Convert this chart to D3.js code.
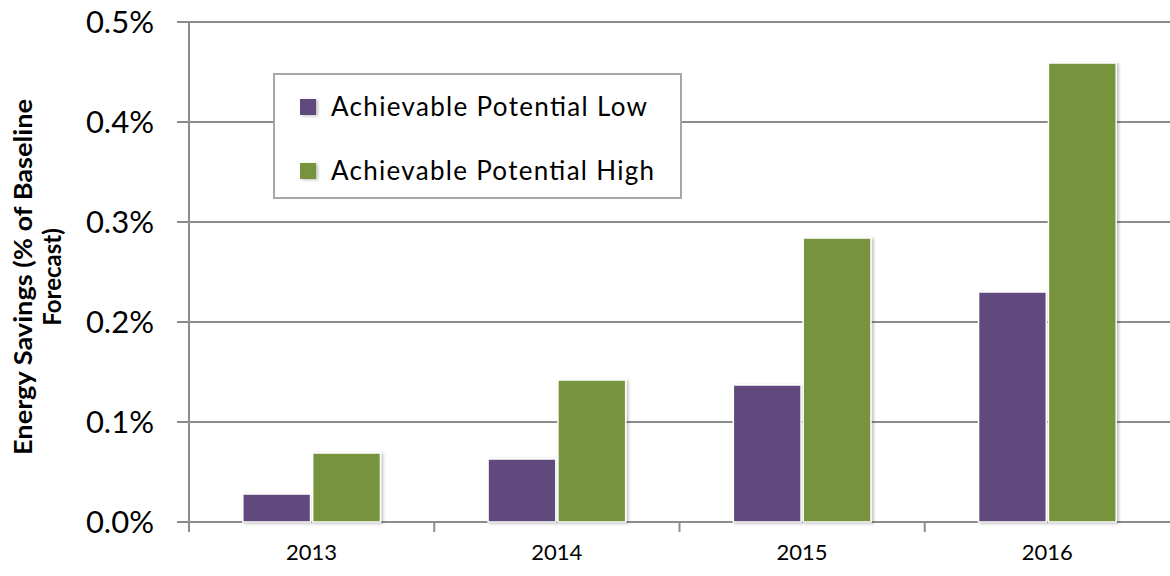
<!DOCTYPE html>
<html><head><meta charset="utf-8">
<script src="https://cdn.jsdelivr.net/npm/d3@7/dist/d3.min.js"></script>
<style>body{margin:0;background:#fff}svg{display:block}</style>
</head><body>
<svg id="c" width="1170" height="576"></svg>
<script>
const years = ["2013","2014","2015","2016"];
const seriesNames = ["Achievable Potential Low","Achievable Potential High"];
const lowValues = [0.028, 0.063, 0.137, 0.230];
const highValues = [0.069, 0.142, 0.284, 0.459];
const yTicks = [0, 0.1, 0.2, 0.3, 0.4, 0.5];
const colors = ["#604A7B", "#77933C"];

const svg = d3.select("#c");
const font = "Lato, 'Open Sans', sans-serif";
const m = {left:189, right:1170, top:22, bottom:522};

const defs = svg.append("defs");
const f = defs.append("filter").attr("id","sh").attr("x","-20%").attr("y","-20%").attr("width","140%").attr("height","140%");
f.append("feDropShadow").attr("dx",2).attr("dy",1).attr("stdDeviation",1.5).attr("flood-color","#000").attr("flood-opacity",0.25);

const x = d3.scaleBand().domain(years).range([m.left, m.right]).paddingInner(0).paddingOuter(0);
const y = d3.scaleLinear().domain([0,0.5]).range([m.bottom, m.top]);
const x1 = d3.scaleBand().domain([0,1]).range([0, x.bandwidth()]).paddingInner(0.03).paddingOuter(0.77);

// gridlines
svg.append("g").selectAll("line").data(yTicks).join("line")
  .attr("x1", m.left - 12).attr("x2", m.right)
  .attr("y1", d=>y(d)).attr("y2", d=>y(d))
  .attr("stroke","#8c8c8c").attr("stroke-width",2);

// y axis line
svg.append("line").attr("x1",m.left).attr("x2",m.left).attr("y1",m.top).attr("y2",m.bottom+10)
  .attr("stroke","#8c8c8c").attr("stroke-width",2);

// x ticks at category boundaries
const bounds = years.map(d=>x(d)).concat([m.right]);
svg.append("g").selectAll("line").data(bounds.slice(1,4)).join("line")
  .attr("x1",d=>d).attr("x2",d=>d).attr("y1",m.bottom).attr("y2",m.bottom+10)
  .attr("stroke","#8c8c8c").attr("stroke-width",2);

// y tick labels
svg.append("g").selectAll("text").data(yTicks).join("text")
  .attr("x", 154).attr("y", d=>y(d)).attr("dy","0.36em")
  .attr("text-anchor","end").attr("font-family",font).attr("font-size",31).attr("fill","#000")
  .text(d=>d3.format(".1f")(d)+"%");

// x labels
svg.append("g").selectAll("text").data(years).join("text")
  .attr("x", d=>x(d)+x.bandwidth()/2).attr("y", 560)
  .attr("text-anchor","middle").attr("font-family",font).attr("font-size",22).attr("fill","#000")
  .text(d=>d);

// bars
const data = years.map((yr,i)=>({yr, vals:[lowValues[i], highValues[i]]}));
const g = svg.append("g").selectAll("g").data(data).join("g")
  .attr("transform", d=>`translate(${x(d.yr)},0)`);
g.selectAll("rect").data(d=>d.vals.map((v,k)=>({v,k}))).join("rect")
  .attr("x", d=>x1(d.k)).attr("width", x1.bandwidth())
  .attr("y", d=>y(d.v)).attr("height", d=>y(0)-y(d.v))
  .attr("fill", d=>colors[d.k]).attr("stroke","#fff").attr("stroke-width",1.5)
  .attr("filter","url(#sh)");

// legend
const lg = svg.append("g");
lg.append("rect").attr("x",274).attr("y",74).attr("width",407).attr("height",124)
  .attr("fill","#fff").attr("stroke","#a6a6a6").attr("stroke-width",2);
const legendWidths = [316, 323];
seriesNames.forEach((n,i)=>{
  const cy = 107 + i*64;
  lg.append("rect").attr("x",300).attr("y",cy-8).attr("width",16).attr("height",16)
    .attr("fill",colors[i]).attr("filter","url(#sh)");
  lg.append("text").attr("x",331).attr("y",cy).attr("dy","0.36em")
    .attr("font-family",font).attr("font-size",26).attr("fill","#000")
    .attr("textLength", legendWidths[i]).attr("lengthAdjust","spacing").text(n);
});

// y title
const yt = svg.append("text").attr("transform","translate(0,277) rotate(-90)")
  .attr("text-anchor","middle").attr("font-family",font).attr("font-size",24)
  .attr("font-weight","bold").attr("fill","#000");
yt.append("tspan").attr("x",0).attr("y",32).attr("textLength",356).attr("lengthAdjust","spacingAndGlyphs").text("Energy Savings (% of Baseline");
yt.append("tspan").attr("x",0).attr("y",61).text("Forecast)");
</script>
</body></html>
